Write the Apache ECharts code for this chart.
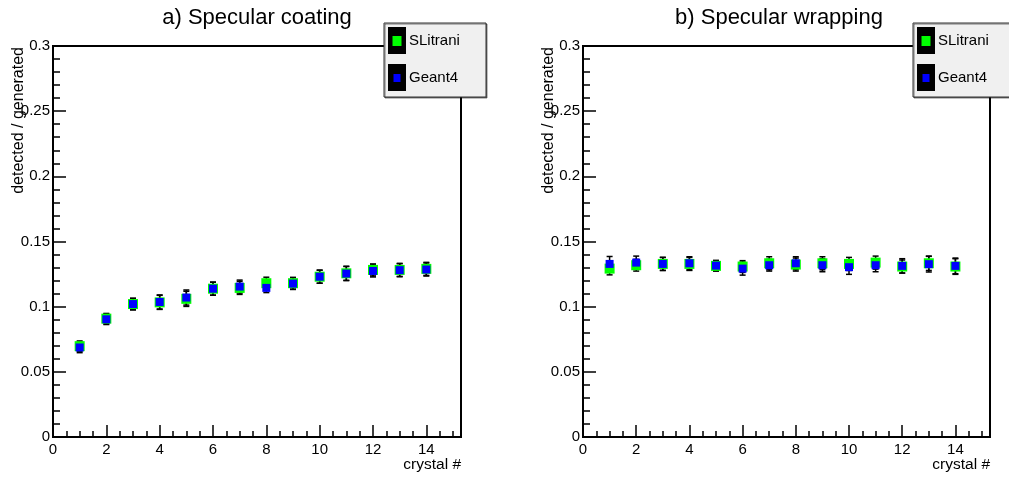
<!DOCTYPE html>
<html lang="en">
<head>
    <meta charset="UTF-8">
    <title>detected / generated</title>
    <script src="https://cdn.jsdelivr.net/npm/echarts@6/dist/echarts.min.js"></script>
    <style>
        *{ padding:0; margin:0; }
        html,body{ background:#fff; }
        #main{ width:1009px; height:479px; }
    </style>
</head>
<body>
<div id="main"></div>
<script>
    // crystal number
    var crystals = [1, 2, 3, 4, 5, 6, 7, 8, 9, 10, 11, 12, 13, 14];

    // a) specular coating
    var coatSLitrani    = [0.0697, 0.0908, 0.1020, 0.1033, 0.1060, 0.1138, 0.1144, 0.1180, 0.1180, 0.1230, 0.1256, 0.1282, 0.1282, 0.1290];
    var coatSLitraniErr = [0.0040, 0.0040, 0.0044, 0.0054, 0.0058, 0.0050, 0.0050, 0.0046, 0.0045, 0.0050, 0.0054, 0.0046, 0.0050, 0.0050];
    var coatGeant4      = [0.0687, 0.0903, 0.1020, 0.1036, 0.1070, 0.1138, 0.1154, 0.1144, 0.1177, 0.1230, 0.1254, 0.1274, 0.1280, 0.1285];
    var coatGeant4Err   = [0.0040, 0.0040, 0.0044, 0.0054, 0.0058, 0.0050, 0.0050, 0.0036, 0.0045, 0.0050, 0.0054, 0.0046, 0.0050, 0.0050];

    // b) specular wrapping
    var wrapSLitrani    = [0.1292, 0.1318, 0.1328, 0.1328, 0.1313, 0.1308, 0.1333, 0.1323, 0.1333, 0.1328, 0.1338, 0.1308, 0.1333, 0.1308];
    var wrapSLitraniErr = [0.0048, 0.0045, 0.0050, 0.0050, 0.0040, 0.0045, 0.0050, 0.0050, 0.0050, 0.0050, 0.0050, 0.0050, 0.0055, 0.0060];
    var wrapGeant4      = [0.1328, 0.1338, 0.1328, 0.1333, 0.1315, 0.1292, 0.1318, 0.1333, 0.1318, 0.1303, 0.1318, 0.1313, 0.1326, 0.1313];
    var wrapGeant4Err   = [0.0057, 0.0050, 0.0050, 0.0050, 0.0040, 0.0050, 0.0045, 0.0050, 0.0050, 0.0055, 0.0050, 0.0055, 0.0060, 0.0060];

    var yTicks = [0, 0.05, 0.1, 0.15, 0.2, 0.25, 0.3];

    var FONT = 'Liberation Sans, Arial, sans-serif';

    function pts(ys, errs) {
        var res = [];
        for (var i = 0; i < crystals.length; i++) {
            res.push([crystals[i], ys[i], errs[i]]);
        }
        return res;
    }

    function errRender(params, api) {
        var x = api.value(0), y = api.value(1), e = api.value(2);
        var hi = api.coord([x, y + e]);
        var lo = api.coord([x, y - e]);
        var c = 3;
        var st = {stroke: '#000', lineWidth: 1.5};
        return {
            type: 'group',
            children: [
                {type: 'line', shape: {x1: lo[0], y1: lo[1], x2: hi[0], y2: hi[1]}, style: st},
                {type: 'line', shape: {x1: hi[0] - c, y1: hi[1], x2: hi[0] + c, y2: hi[1]}, style: st},
                {type: 'line', shape: {x1: lo[0] - c, y1: lo[1], x2: lo[0] + c, y2: lo[1]}, style: st}
            ]
        };
    }

    function xAx(idx) {
        return {
            gridIndex: idx,
            type: 'value',
            min: 0,
            max: 15.3,
            interval: 2,
            name: 'crystal #',
            nameLocation: 'end',
            nameGap: 0,
            nameTextStyle: {color: '#000', fontSize: 15.5, fontFamily: FONT, align: 'right', verticalAlign: 'top', padding: [20, 0, 0, 0]},
            axisLine: {lineStyle: {color: '#000', width: 2}},
            axisTick: {inside: true, length: 12, lineStyle: {color: '#000', width: 1.5}},
            minorTick: {show: true, splitNumber: 4, length: 6, lineStyle: {color: '#000', width: 1.5}},
            axisLabel: {color: '#000', fontSize: 15, fontFamily: FONT, margin: 5, showMaxLabel: false},
            splitLine: {show: false}
        };
    }

    function yAx(idx) {
        return {
            gridIndex: idx,
            type: 'value',
            min: yTicks[0],
            max: yTicks[yTicks.length - 1],
            interval: 0.05,
            axisLine: {lineStyle: {color: '#000', width: 2}},
            axisTick: {inside: true, length: 13, lineStyle: {color: '#000', width: 1.5}},
            minorTick: {show: true, splitNumber: 5, length: 7, lineStyle: {color: '#000', width: 1.5}},
            axisLabel: {color: '#000', fontSize: 15, fontFamily: FONT, margin: 3},
            splitLine: {show: false}
        };
    }

    function series(idx, ys, errs, color, size) {
        return [
            {
                type: 'custom',
                xAxisIndex: idx, yAxisIndex: idx,
                renderItem: errRender,
                encode: {x: 0, y: 1},
                data: pts(ys, errs),
                silent: true
            },
            {
                type: 'scatter',
                xAxisIndex: idx, yAxisIndex: idx,
                symbol: 'rect',
                symbolSize: size,
                itemStyle: {color: color, opacity: 1},
                data: pts(ys, errs)
            }
        ];
    }

    function legendBox(x) {
        return [
            {type: 'rect', shape: {x: x, y: 23, width: 102, height: 74},
                style: {fill: '#f0f0f0', stroke: '#333', lineWidth: 1, shadowColor: 'rgba(0,0,0,0.5)', shadowOffsetX: 1, shadowOffsetY: 1}, z: 100},
            {type: 'rect', shape: {x: x + 4, y: 27, width: 18, height: 27}, style: {fill: '#000'}, z: 101},
            {type: 'rect', shape: {x: x + 8.5, y: 36, width: 9, height: 10}, style: {fill: '#00ff00'}, z: 102},
            {type: 'text', x: x + 25, y: 41, style: {text: 'SLitrani', fill: '#000', font: '15px ' + FONT, verticalAlign: 'middle'}, z: 102},
            {type: 'rect', shape: {x: x + 4, y: 64, width: 18, height: 27}, style: {fill: '#000'}, z: 101},
            {type: 'rect', shape: {x: x + 9.5, y: 74, width: 7, height: 8}, style: {fill: '#0000ff'}, z: 102},
            {type: 'text', x: x + 25, y: 78, style: {text: 'Geant4', fill: '#000', font: '15px ' + FONT, verticalAlign: 'middle'}, z: 102}
        ];
    }

    function yName(x) {
        return {
            type: 'text', x: x, y: 47, rotation: Math.PI / 2, z: 50,
            style: {text: 'detected / generated', fill: '#000', font: '16px ' + FONT, align: 'right', verticalAlign: 'middle'}
        };
    }

    var myChart = echarts.init(document.getElementById('main'));
    var option = {
        backgroundColor: '#fff',
        animation: false,
        title: [
            {text: 'a) Specular coating', left: 252, top: 2, textAlign: 'center',
                textStyle: {color: '#000', fontSize: 22, fontWeight: 'normal', fontFamily: FONT}},
            {text: 'b) Specular wrapping', left: 774, top: 2, textAlign: 'center',
                textStyle: {color: '#000', fontSize: 22, fontWeight: 'normal', fontFamily: FONT}}
        ],
        grid: [
            {left: 53, top: 46, width: 408, height: 391, containLabel: false, outerBoundsMode: 'none',
                show: true, borderColor: '#000', borderWidth: 2, backgroundColor: 'transparent'},
            {left: 583, top: 46, width: 407, height: 391, containLabel: false, outerBoundsMode: 'none',
                show: true, borderColor: '#000', borderWidth: 2, backgroundColor: 'transparent'}
        ],
        xAxis: [xAx(0), xAx(1)],
        yAxis: [yAx(0), yAx(1)],
        series: []
            .concat(series(0, coatSLitrani, coatSLitraniErr, '#00ff00', 10))
            .concat(series(0, coatGeant4, coatGeant4Err, '#0000ff', 8))
            .concat(series(1, wrapSLitrani, wrapSLitraniErr, '#00ff00', 10))
            .concat(series(1, wrapGeant4, wrapGeant4Err, '#0000ff', 8)),
        graphic: legendBox(384).concat(legendBox(913)).concat([yName(18.5), yName(548.5)])
    };
    myChart.setOption(option);
</script>
</body>
</html>
